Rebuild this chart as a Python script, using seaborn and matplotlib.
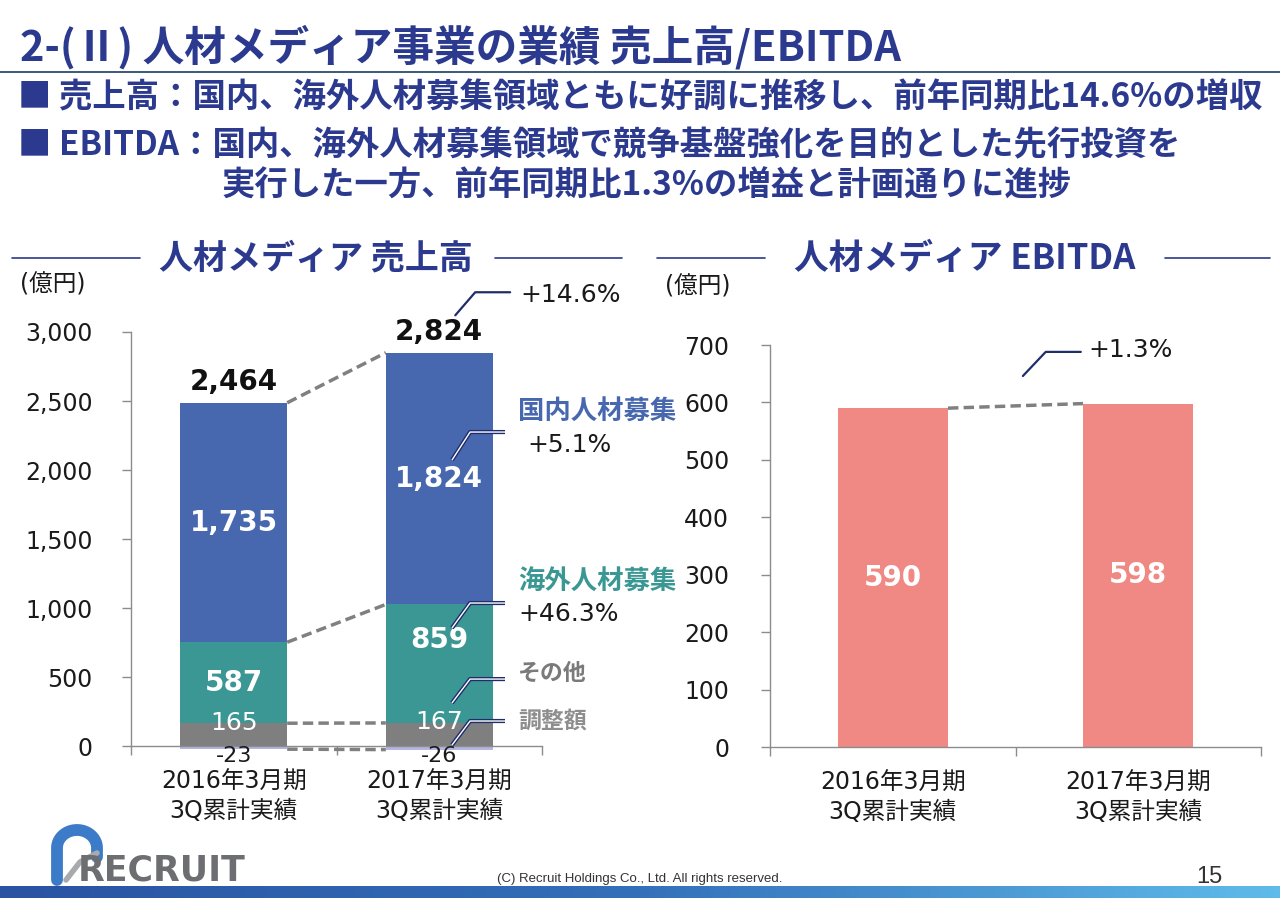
import numpy as np
import pandas as pd
import matplotlib
matplotlib.use('Agg')
import matplotlib.pyplot as plt
import seaborn as sns
from matplotlib.colors import LinearSegmentedColormap

# ---------------- data ----------------
periods = ['2016年3月期\n3Q累計実績', '2017年3月期\n3Q累計実績']
domestic = [1735, 1824]      # 国内人材募集
overseas = [587, 859]        # 海外人材募集
other = [165, 167]           # その他
adjustment = [-23, -26]      # 調整額
sales_total = [2464, 2824]
ebitda = [590, 598]
sales_growth = '+14.6%'
domestic_growth = '+5.1%'
overseas_growth = '+46.3%'
ebitda_growth = '+1.3%'
sales_ticks = [0, 500, 1000, 1500, 2000, 2500, 3000]
ebitda_ticks = [0, 100, 200, 300, 400, 500, 600, 700]

# ---------------- style ----------------
sns.set_theme(style='white')
plt.rcParams['font.family'] = ['DejaVu Sans', 'Noto Sans CJK JP']
JP = ['Noto Sans CJK JP', 'DejaVu Sans']

NAVY = '#2B3A8E'
BLUE = '#4767AE'
TEAL = '#3B9793'
GRAY = '#7F7F7F'
LAV = '#B3B6E2'
SALMON = '#F08883'
LEADER = '#1F2D6B'
SPINE = '#8C8C8C'
DASH = '#808080'
TXT = '#1A1A1A'

W, H = 1280, 905
fig = plt.figure(figsize=(12.8, 9.05), dpi=100)
fig.patch.set_facecolor('white')


def rect(x0, y0, x1, y1):
    return [x0 / W, 1 - y1 / H, (x1 - x0) / W, (y1 - y0) / H]


ax1 = fig.add_axes(rect(131, 332, 542, 746))
ax2 = fig.add_axes(rect(770, 345, 1261, 747))
ov = fig.add_axes([0, 0, 1, 1], zorder=5)
ov.set_xlim(0, W)
ov.set_ylim(H, 0)
ov.axis('off')

# ---------------- sales chart (stacked) ----------------
c_other = np.array(other)
c_over = c_other + np.array(overseas)
c_dom = c_over + np.array(domestic)
df = pd.DataFrame({'period': periods, 'dom': c_dom, 'over': c_over,
                   'oth': c_other, 'adj': adjustment})
BW1 = 0.52
for col, colr in [('dom', BLUE), ('over', TEAL), ('oth', GRAY), ('adj', LAV)]:
    sns.barplot(data=df, x='period', y=col, color=colr, width=BW1,
                saturation=1, errorbar=None, linewidth=0, ax=ax1, clip_on=False)


def style_axis(ax, ticks, labels, ypad):
    ax.set_xlim(-0.5, 1.5)
    ax.set_ylim(ticks[0], ticks[-1])
    ax.set_xlabel('')
    ax.set_ylabel('')
    ax.set_yticks(ticks)
    ax.set_yticklabels(labels)
    ax.tick_params(axis='y', which='major', left=True, direction='out', length=6.5,
                   width=1, color=SPINE, pad=ypad, labelsize=17, labelcolor=TXT)
    ax.set_xticks([0, 1])
    ax.set_xticklabels(periods)
    ax.set_xticks([-0.5, 0.5, 1.5], minor=True)
    ax.tick_params(axis='x', which='major', bottom=False, length=0, pad=17,
                   labelsize=17, labelcolor=TXT)
    ax.tick_params(axis='x', which='minor', bottom=True, direction='out',
                   length=6.5, width=1, color=SPINE)
    for lab in ax.get_xticklabels():
        lab.set_linespacing(1.3)
    sns.despine(ax=ax)
    for s in ['left', 'bottom']:
        ax.spines[s].set_color(SPINE)
        ax.spines[s].set_linewidth(1)
    ax.set_facecolor('white')


style_axis(ax1, sales_ticks, [f'{v:,}' for v in sales_ticks], 21)

ov_frac = [0.5, 0.7]
for i in range(2):
    ax1.text(i, c_dom[i] + 150, f'{sales_total[i]:,}', ha='center', va='center',
             fontsize=20, fontweight='bold', color='#111111')
    ax1.text(i, c_over[i] + domestic[i] * 0.5, f'{domestic[i]:,}', ha='center',
             va='center', fontsize=20, fontweight='bold', color='white')
    ax1.text(i, c_other[i] + overseas[i] * ov_frac[i], f'{overseas[i]}', ha='center',
             va='center', fontsize=20, fontweight='bold', color='white')
    ax1.text(i, other[i] + 5, f'{other[i]}', ha='center', va='center',
             fontsize=18, color='white', zorder=6)
    ax1.text(i, -70, f'{adjustment[i]}', ha='center', va='center',
             fontsize=16, color=TXT, clip_on=False)

h1 = BW1 / 2
for ys in [c_dom, c_over, c_other, adjustment]:
    ax1.plot([h1, 1 - h1], [ys[0], ys[1]], color=DASH, lw=2.5,
             ls=(0, (3, 1.5)), clip_on=False, zorder=4)


def leader(ax, pts, double=False):
    xs = [p[0] for p in pts]
    ys = [p[1] for p in pts]
    if double:
        ax.plot(xs, ys, color=LEADER, lw=3.0, clip_on=False, zorder=7,
                solid_capstyle='butt')
        ax.plot(xs, ys, color='white', lw=1.0, clip_on=False, zorder=8,
                solid_capstyle='butt')
    else:
        ax.plot(xs, ys, color=LEADER, lw=1.6, clip_on=False, zorder=7)


leader(ax1, [(1.078, 3121), (1.175, 3288), (1.345, 3288)])
leader(ax1, [(1.062, 2072), (1.150, 2275), (1.320, 2275)], double=True)
leader(ax1, [(1.062, 855), (1.150, 1036), (1.320, 1036)], double=True)
leader(ax1, [(1.062, 312), (1.150, 485), (1.320, 485)], double=True)
leader(ax1, [(1.062, 7), (1.150, 181), (1.320, 181)], double=True)

ov.text(520, 295, sales_growth, fontsize=18, color=TXT, va='center')
ov.text(518, 412, '国内人材募集', fontsize=19, fontweight='bold', color=BLUE,
        va='center', family=JP)
ov.text(527, 445, domestic_growth, fontsize=18, color=TXT, va='center')
ov.text(518, 582, '海外人材募集', fontsize=19, fontweight='bold', color=TEAL,
        va='center', family=JP)
ov.text(518, 614, overseas_growth, fontsize=18, color=TXT, va='center')
ov.text(518, 673, 'その他', fontsize=16.5, fontweight='bold', color='#7A7A7A',
        va='center', family=JP)
ov.text(518, 721, '調整額', fontsize=16.5, fontweight='bold', color='#8E8E8E',
        va='center', family=JP)

# ---------------- EBITDA chart ----------------
df2 = pd.DataFrame({'period': periods, 'ebitda': ebitda})
BW2 = 0.45
sns.barplot(data=df2, x='period', y='ebitda', color=SALMON, width=BW2,
            saturation=1, errorbar=None, linewidth=0, ax=ax2)
style_axis(ax2, ebitda_ticks, [str(v) for v in ebitda_ticks], 23)
for i in range(2):
    ax2.text(i, ebitda[i] / 2, f'{ebitda[i]}', ha='center', va='center',
             fontsize=20, fontweight='bold', color='white')
h2 = BW2 / 2
ax2.plot([h2, 1 - h2], [ebitda[0], ebitda[1]], color=DASH, lw=2.5,
         ls=(0, (3, 1.5)), clip_on=False, zorder=4)
leader(ax2, [(0.53, 646), (0.623, 688), (0.766, 688)])
ax2.text(0.798, 691, ebitda_growth, fontsize=18, color=TXT, va='center', clip_on=False)

# ---------------- page texts ----------------
ov.text(20, 47, '2-(Ⅱ) 人材メディア事業の業績 売上高/EBITDA', fontsize=30,
        fontweight='bold', color=NAVY, va='center', family=JP)
ov.plot([0, W], [72, 72], color='#2E4C6D', lw=1.3)
ov.text(18, 98, '■ 売上高：国内、海外人材募集領域ともに好調に推移し、前年同期比14.6%の増収',
        fontsize=24, fontweight='bold', color=NAVY, va='center', family=JP)
ov.text(18, 146, '■ EBITDA：国内、海外人材募集領域で競争基盤強化を目的とした先行投資を',
        fontsize=24, fontweight='bold', color=NAVY, va='center', family=JP)
ov.text(222, 186, '実行した一方、前年同期比1.3%の増益と計画通りに進捗',
        fontsize=24, fontweight='bold', color=NAVY, va='center', family=JP)

ov.text(316, 258, '人材メディア 売上高', fontsize=24.5, fontweight='bold', color=NAVY,
        ha='center', va='center', family=JP)
ov.plot([12, 140], [258, 258], color=NAVY, lw=1.2)
ov.plot([495, 622], [258, 258], color=NAVY, lw=1.2)
ov.text(965, 258, '人材メディア EBITDA', fontsize=25, fontweight='bold', color=NAVY,
        ha='center', va='center', family=JP)
ov.plot([657, 765], [258, 258], color=NAVY, lw=1.2)
ov.plot([1165, 1270], [258, 258], color=NAVY, lw=1.2)

ov.text(20, 284, '(億円)', fontsize=17, color=TXT, va='center')
ov.text(665, 286, '(億円)', fontsize=17, color=TXT, va='center')

# ---------------- footer ----------------
ov.text(640, 879, '(C) Recruit Holdings Co., Ltd. All rights reserved.', fontsize=9.5,
        color='#333333', ha='center', va='center', family=['Liberation Sans', 'DejaVu Sans'])
ov.text(1222, 877, '15', fontsize=17, color='#333333', ha='right', va='center',
        family=['Liberation Sans', 'DejaVu Sans'])

t = np.linspace(np.pi, 0, 60)
xs = np.concatenate([[57], 77 + 20 * np.cos(t), [97]])
ys = np.concatenate([[880], 848 - 18 * np.sin(t), [857]])
ov.plot(xs, ys, color='#3C7BC8', lw=8.5, solid_capstyle='round', solid_joinstyle='round')
ov.plot([66, 80, 97], [880, 862, 853], color='#A8AAAD', lw=4, solid_capstyle='round')
ov.text(78, 880, 'RECRUIT', fontsize=25, fontweight='bold', color='#6D6E71',
        va='baseline', family=['DejaVu Sans'])

gax = fig.add_axes(rect(0, 886, W, 898))
grad = np.linspace(0, 1, 256).reshape(1, -1)
gax.imshow(grad, aspect='auto',
           cmap=LinearSegmentedColormap.from_list('g', ['#2A53A2', '#3470B9', '#5FBBEA']))
gax.axis('off')

fig.savefig('out.png', dpi=100, facecolor='white')
